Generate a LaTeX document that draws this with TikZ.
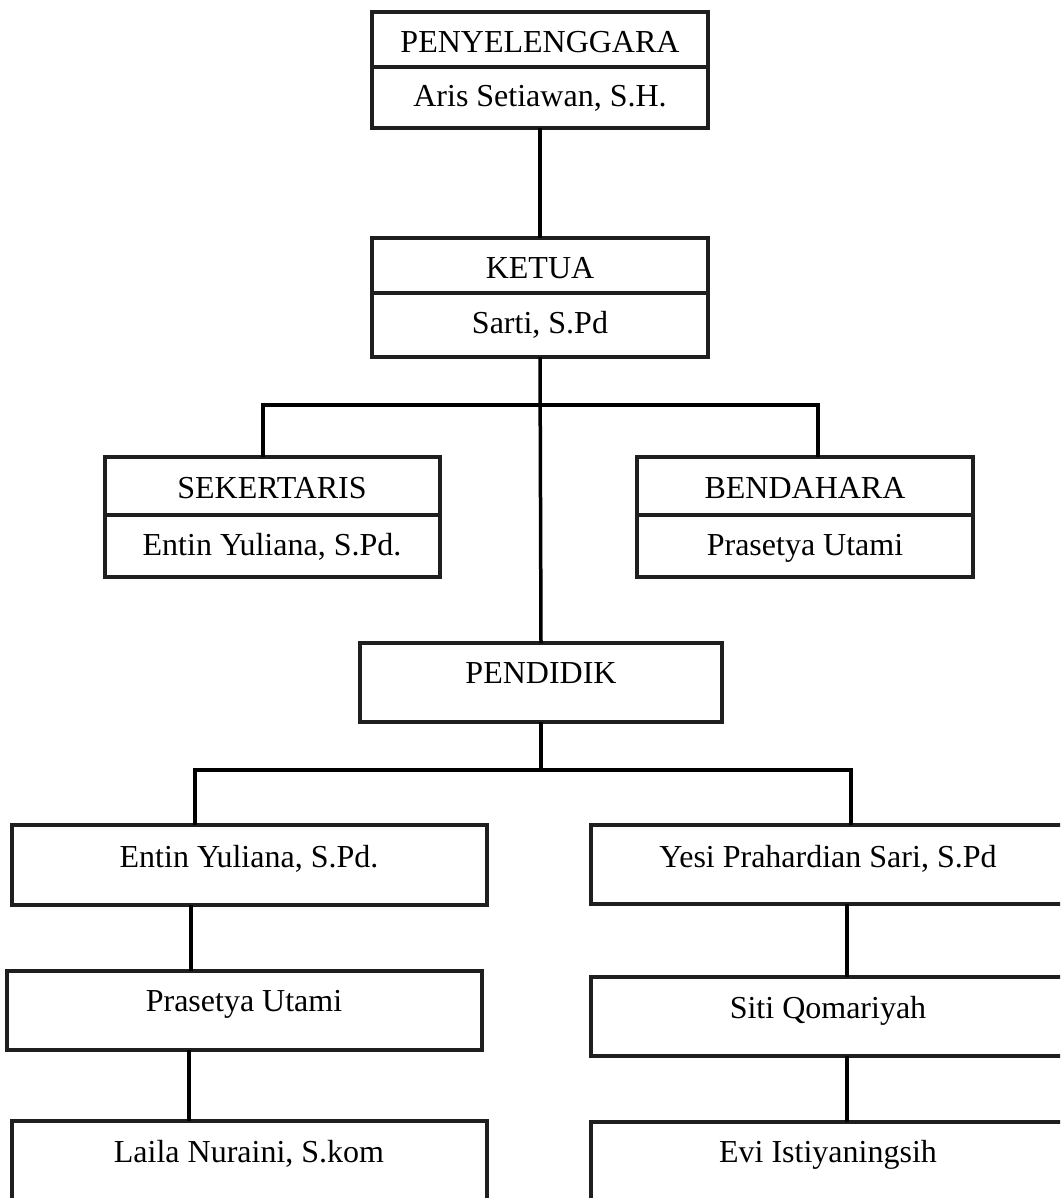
\documentclass[tikz,border=0pt]{standalone}
\usepackage{fontspec}
\setmainfont{Liberation Serif}
\begin{document}
\begin{tikzpicture}[x=1pt,y=-1pt,
  box/.style={draw=black!88, line width=3.5pt, rectangle, inner sep=0pt, outer sep=0pt, anchor=north west},
  link/.style={draw=black, line width=3.5pt},
  divider/.style={draw=black!88, line width=3.5pt},
  lbl/.style={anchor=base, inner sep=0pt, font=\fontsize{32}{38}\selectfont}]
\useasboundingbox (0,0) rectangle (1060,1198);
\clip (0,0) rectangle (1060,1198);
\fill[white] (0,0) rectangle (1060,1198);

% boxes
\node[box, minimum width=336pt, minimum height=116pt] (peny) at (372,12) {};
\node[box, minimum width=336pt, minimum height=119pt] (ketua) at (372,238) {};
\node[box, minimum width=335pt, minimum height=120pt] (sek) at (105,457) {};
\node[box, minimum width=336pt, minimum height=120pt] (bend) at (637,457) {};
\node[box, minimum width=362pt, minimum height=79pt] (pend) at (360,643) {};
\node[box, minimum width=475pt, minimum height=80pt] (e1) at (12,825) {};
\node[box, minimum width=480pt, minimum height=79pt] (y1) at (591,825) {};
\node[box, minimum width=475pt, minimum height=79pt] (p2) at (7,971) {};
\node[box, minimum width=480pt, minimum height=79pt] (s2) at (591,977) {};
\node[box, minimum width=475pt, minimum height=120pt] (l3) at (12,1121) {};
\node[box, minimum width=480pt, minimum height=120pt] (v3) at (591,1122) {};

% dividers
\draw[divider] (peny.west |- 0,67) -- (peny.east |- 0,67);
\draw[divider] (ketua.west |- 0,293) -- (ketua.east |- 0,293);
\draw[divider] (sek.west |- 0,515) -- (sek.east |- 0,515);
\draw[divider] (bend.west |- 0,515) -- (bend.east |- 0,515);

% texts
\node[lbl] (tpeny) at (540,53) {PENYELENGGARA};
\node[lbl] (taris) at (540,107) {Aris Setiawan, S.H.};
\node[lbl] (tketua) at (540,278) {KETUA};
\node[lbl] (tsarti) at (540,333) {Sarti, S.Pd};
\node[lbl] (tsek) at (272,498) {SEKERTARIS};
\node[lbl] (tentin) at (272,555) {Entin Yuliana, S.Pd.};
\node[lbl] (tbend) at (805,498) {BENDAHARA};
\node[lbl] (tpras) at (805,555) {Prasetya Utami};
\node[lbl] (tpend) at (541,683) {PENDIDIK};
\node[lbl] (te1) at (249,867) {Entin Yuliana, S.Pd.};
\node[lbl] (ty1) at (828,867) {Yesi Prahardian Sari, S.Pd};
\node[lbl] (tp2) at (244,1011) {Prasetya Utami};
\node[lbl] (ts2) at (828,1018) {Siti Qomariyah};
\node[lbl] (tl3) at (249,1162) {Laila Nuraini, S.kom};
\node[lbl] (tv3) at (828,1162) {Evi Istiyaningsih};

% connectors
\coordinate (barL) at (263,405);
\coordinate (barR) at (818,405);
\coordinate (bar2L) at (195,770);
\coordinate (bar2R) at (851,770);
\coordinate (bar2M) at (541,770);

\draw[link] (peny.south) -- (ketua.north);
\draw[link] (ketua.south) -- (pend.north);
\draw[link] (barL |- sek.north) -- (barL) -- (barR) -- (barR |- bend.north);
\draw[link] (pend.south) -- (bar2M);
\draw[link] (bar2L |- e1.north) -- (bar2L) -- (bar2R) -- (bar2R |- y1.north);
\draw[link] (191,0 |- e1.south) -- (191,0 |- p2.north);
\draw[link] (189,0 |- p2.south) -- (189,0 |- l3.north);
\draw[link] (847,0 |- y1.south) -- (847,0 |- s2.north);
\draw[link] (847,0 |- s2.south) -- (847,0 |- v3.north);
\end{tikzpicture}
\end{document}
